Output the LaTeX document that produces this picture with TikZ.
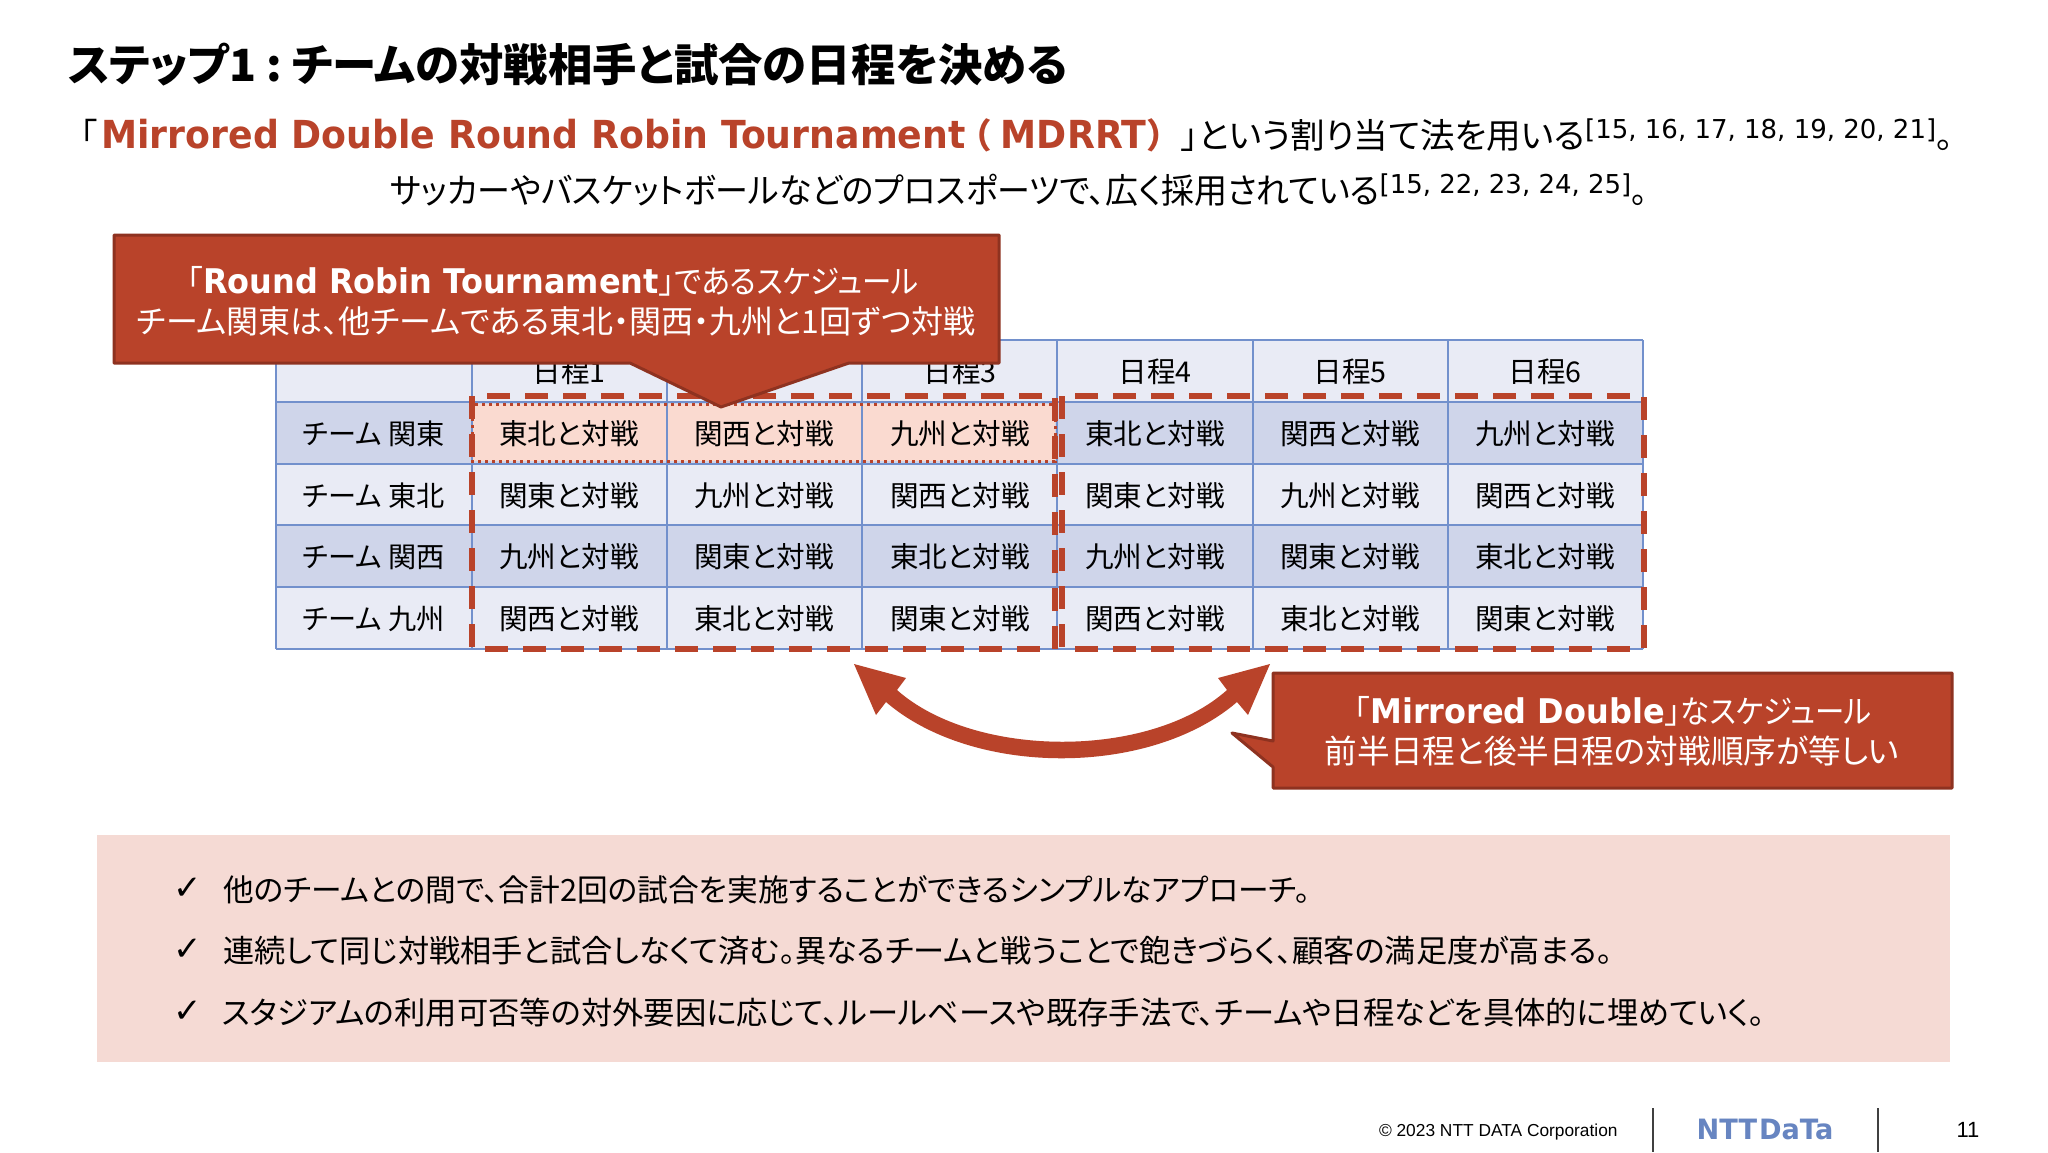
\documentclass[tikz,border=0pt]{standalone}
\usepackage{fontspec}
\setmainfont{Noto Sans CJK JP}[RawFeature={+palt}]
\newfontfamily\lat{DejaVu Sans}
\newfontfamily\latb{DejaVu Sans}[FakeStretch=0.94]
\newfontfamily\foot{Liberation Sans}
\definecolor{rust}{HTML}{B9432A}
\definecolor{rustdark}{HTML}{8E3220}
\definecolor{hdrcell}{HTML}{E9EBF5}
\definecolor{bandcell}{HTML}{CFD5EA}
\definecolor{gridblue}{HTML}{7290CC}
\definecolor{pinkcell}{HTML}{FADAD0}
\definecolor{pinkband}{HTML}{F5DAD4}
\definecolor{logoblue}{HTML}{6785C1}
\newcommand{\fs}[1]{\fontsize{#1}{#1}\selectfont}
\newcommand{\st}[1]{\addfontfeature{FakeStretch=#1}}
\tikzset{
  txt/.style={inner sep=0pt,outer sep=0pt,text=black},
  celltxt/.style={txt,font=\fs{14.3}},
  calloutbox/.style={fill=rust,draw=rustdark,line width=1.5pt,line join=round},
  calltxt/.style={txt,text=white,font=\fs{16},align=center},
  reddash/.style={draw=rust,line width=2.7pt,dash pattern=on 11.5pt off 7.5pt},
  bultxt/.style={txt,anchor=west},
  chk/.style={txt,font=\lat\fs{17}},
}
\begin{document}
\begin{tikzpicture}[x=0.5pt,y=-0.5pt]
\useasboundingbox (0,0) rectangle (2048,1152);
\fill[white] (0,0) rectangle (2048,1152);
% title and lead text
\node[txt,anchor=west,font=\fs{22.2}\bfseries] (title) at (68,65) {ステップ1\hspace{5pt}:\hspace{5pt}チームの対戦相手と試合の日程を決める};
\node[txt,anchor=west,font=\fs{17.3}] (lead1) at (80,135) {「\hspace{2pt}{\latb\bfseries\color{rust}\fs{19.3}Mirrored Double Round Robin Tournament}\hspace{4pt}{\bfseries\color{rust}（}\hspace{5pt}{\latb\bfseries\color{rust}\fs{19.3}MDRRT}\hspace{1pt}{\bfseries\color{rust}）}\hspace{8pt}」という割り当て法を用いる\raisebox{5pt}{\lat\fs{13}[15, 16, 17, 18, 19, 20, 21]}。};
\node[txt,anchor=west,font=\fs{17.3}] (lead2) at (390,190) {\st{0.953}サッカーやバスケットボールなどのプロスポーツで、広く採用されている\raisebox{5pt}{\lat\fs{13}[15, 22, 23, 24, 25]}。};
% table cells
\fill[hdrcell] (276,340) rectangle (1643,402);
\fill[bandcell] (276,402) rectangle (1643,464);
\fill[hdrcell] (276,464) rectangle (1643,525);
\fill[bandcell] (276,525) rectangle (1643,587);
\fill[hdrcell] (276,587) rectangle (1643,649);
\fill[pinkcell] (472,404) rectangle (1055,461);
\foreach \x in {276,472,667,862,1057,1253,1448,1643}
  \draw[gridblue,line width=1pt] (\x,340) -- (\x,649);
\foreach \y in {340,402,464,525,587,649}
  \draw[gridblue,line width=1pt] (276,\y) -- (1643,\y);
% header
\foreach \n/\x in {1/569,2/764,3/960,4/1155,5/1350,6/1545}
  \node[celltxt] (h\n) at (\x,372) {日程\n};
% rows
\foreach \nm/\y/\a/\b/\c in {関東/434/東北/関西/九州,東北/496/関東/九州/関西,関西/557/九州/関東/東北,九州/619/関西/東北/関東}{
  \node[celltxt,font=\fs{14.1}] (r\nm) at (373.5,\y) {チーム \nm};
  \foreach \x/\t in {569/\a,764/\b,960/\c,1155/\a,1350/\b,1545/\c}
    \node[celltxt] (c\nm\x) at (\x,\y) {\t と対戦};
}
% dashed outlines
\draw[rust,line width=1.5pt,dotted] (472,404) rectangle (1055,461);
\draw[reddash] (472,396) rectangle (1055,649);
\draw[reddash] (1062,396) rectangle (1644,649);
% callout 1
\draw[calloutbox] (114,235) -- (999,235) -- (999,363) -- (849,363) -- (721,407) -- (630,363) -- (114,363) -- cycle;
\node[calltxt] (call1a) at (553,281) {「{\latb\bfseries\fs{17}Round Robin Tournament}」{\st{0.92}であるスケジュール}};
\node[calltxt] (call1b) at (556,321) {チーム関東は、他チームである東北・関西・九州と1回ずつ対戦};
% double arrow
\fill[rust] (854,664) -- (906,678) -- (897,690)
  .. controls (975,759) and (1150,759) .. (1227,690)
  -- (1218,678) -- (1270,664) -- (1248,715) -- (1237,702)
  .. controls (1150,777) and (973,777) .. (886,702)
  -- (876,715) -- cycle;
% callout 2
\draw[calloutbox] (1273,673) -- (1952,673) -- (1952,788) -- (1273,788) -- (1273,767) -- (1232,733) -- (1273,741) -- cycle;
\node[calltxt] (call2a) at (1613,711) {「{\latb\bfseries\fs{17}Mirrored Double}」{\st{0.92}なスケジュール}};
\node[calltxt,font=\fs{16.3}] (call2b) at (1612,751) {前半日程と後半日程の対戦順序が等しい};
% bottom band
\fill[pinkband] (97,835) rectangle (1950,1062);
\node[chk] (k1) at (188,889) {✓};
\node[chk] (k2) at (188,950) {✓};
\node[chk] (k3) at (188,1012) {✓};
\node[bultxt,font=\fs{15.35}] (b1) at (223,890) {他のチームとの間で、合計2回の試合を実施することができるシンプルなアプローチ。};
\node[bultxt,font=\fs{15.6}] (b2) at (223,951) {連続して同じ対戦相手と試合しなくて済む。異なるチームと戦うことで飽きづらく、顧客の満足度が高まる。};
\node[bultxt,font=\fs{15.65}] (b3) at (222,1013) {スタジアムの利用可否等の対外要因に応じて、ルールベースや既存手法で、チームや日程などを具体的に埋めていく。};
% footer
\node[txt,anchor=west,font=\foot\fs{8.67}] (copy) at (1379,1132) {© 2023 NTT DATA Corporation};
\coordinate (s1a) at (1653,1108); \coordinate (s1b) at (1653,1152);
\coordinate (s2a) at (1878,1108); \coordinate (s2b) at (1878,1152);
\draw[black!75,line width=1pt] (s1a) -- (s1b);
\draw[black!75,line width=1pt] (s2a) -- (s2b);
\node[txt,text=logoblue,font=\lat\bfseries\fs{14}\st{0.97}] (logo) at (1765,1129) {NTT\hspace{1pt}DaTa};
\node[txt,font=\foot\fs{11}] (pg) at (1968,1130) {11};
\end{tikzpicture}
\end{document}
